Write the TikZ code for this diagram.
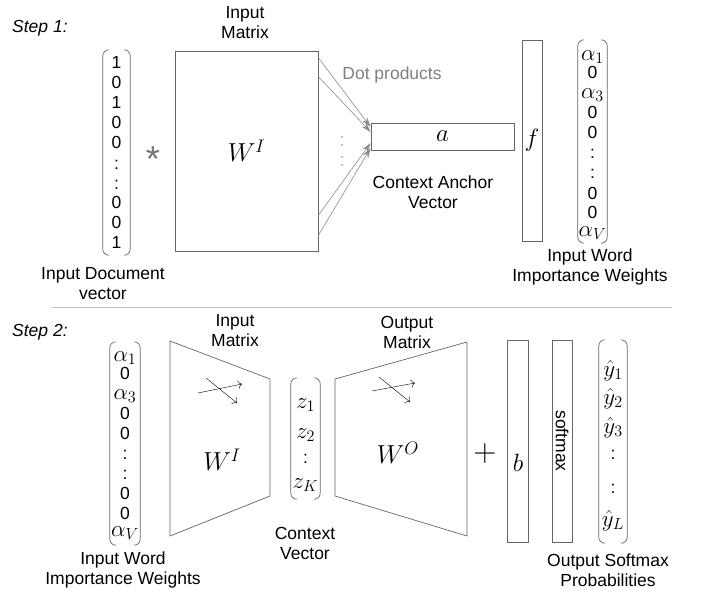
\RequirePackage{fix-cm}
\documentclass[tikz,border=0pt]{standalone}
\usepackage[no-math]{fontspec}
\setmainfont{Liberation Sans}
\usetikzlibrary{arrows.meta}

% parentheses round a vector holder node
\newcommand{\vecparens}[1]{%
  \draw[frame,rounded corners=6pt] ([xshift=6pt]#1.north west) -- (#1.north west) -- (#1.south west) -- ([xshift=6pt]#1.south west);
  \draw[frame,rounded corners=6pt] ([xshift=-6pt]#1.north east) -- (#1.north east) -- (#1.south east) -- ([xshift=-6pt]#1.south east);}
\newcommand{\ent}[1]{{\fontsize{23}{23}\selectfont$#1$}}

\begin{document}
\begin{tikzpicture}[x=1pt,y=-1pt]
      \tikzstyle{every node}=[inner sep=0pt,font=\fontsize{17.5}{20}\selectfont]
      \tikzstyle{lbl}=[align=center]
      \tikzstyle{stepname}=[anchor=west,font=\fontsize{17.5}{20}\selectfont\itshape]
      \tikzstyle{box}=[draw=black!60,line width=0.7pt]
      \tikzstyle{frame}=[draw=black!60,line width=0.7pt]
      \tikzstyle{holder}=[draw=none]
      \tikzstyle{entry}=[text height=12pt,text depth=0pt]
      \tikzstyle{big}=[font=\fontsize{26}{26}\selectfont]
      \tikzstyle{sym}=[font=\fontsize{25}{25}\selectfont]
      \tikzstyle{dotprod}=[draw=black!45,line width=0.6pt,-{Stealth[length=10pt,width=6pt]}]
      \tikzstyle{flow}=[draw=black,line width=0.4pt,-{To[length=4pt]}]

      \useasboundingbox (0,0) rectangle (702,590);

      % Step 1
      \node[stepname] (step1) at (12,28) {Step 1:};
      \node[lbl] (inmat1) at (245,23) {Input\\Matrix};

      \node[holder,minimum width=27pt,minimum height=205pt] (docvec) at (116.5,152.5) {};
      \vecparens{docvec}
      \foreach \t/\y [count=\i] in {1/62,0/82,1/102,0/122,0/142,:/163,:/183,0/202,0/222,1/242}
        \node[entry] (d\i) at (116.5,\y) {\t};
      \node[lbl] (doclbl) at (103,284) {Input Document\\vector};

      \node[anchor=base,text=black!55,font=\fontsize{36}{36}\selectfont] (times) at (153,171.5) {*};

      \node[box,big,minimum width=143pt,minimum height=200pt] (WI1) at (246.5,151) {$W^I$};
      \node[lbl,text=black!50] (dotlbl) at (392,75) {Dot products};
      \node[box,sym,minimum width=143pt,minimum height=27pt] (ctx) at (442.5,136.5) {$a$};
      \node[lbl] (ctxlbl) at (433,192) {Context Anchor\\Vector};

      \draw[dotprod] ([yshift=-7pt]WI1.north east) -- ([yshift=9.5pt]ctx.west);
      \draw[dotprod] ([yshift=-26pt]WI1.north east) -- ([yshift=4.5pt]ctx.west);
      \draw[dotprod] ([yshift=36pt]WI1.south east) -- ([yshift=-6.5pt]ctx.west);
      \draw[dotprod] ([yshift=16pt]WI1.south east) -- ([yshift=-11.5pt]ctx.west);
      \foreach \y in {137,145,157,165}
        \fill[black!45] (342,\y) circle (0.9pt);

      \node[box,sym,minimum width=20pt,minimum height=201pt] (fbox) at (532,140.5) {$f$};

      \node[holder,minimum width=29pt,minimum height=203pt] (wvec1) at (592.5,141.5) {};
      \vecparens{wvec1}
      \foreach \t/\y [count=\i] in {\ent{\alpha_1}/54,0/72,\ent{\alpha_3}/92,0/112,0/132,:/152,:/172,0/193,0/212,\ent{\alpha_V}/230}
        \node[entry] (w\i) at (592.5,\y) {\t};
      \node[lbl] (wlbl1) at (590,267) {Input Word\\Importance Weights};

      \draw[black!25,line width=0.8pt] (52,307) -- (672,307);

      % Step 2
      \node[stepname] (step2) at (12,332) {Step 2:};
      \node[lbl] (inmat2) at (235,331) {Input\\Matrix};

      \node[holder,minimum width=30pt,minimum height=203pt] (wvec2) at (125,443.5) {};
      \vecparens{wvec2}
      \foreach \t/\y [count=\i] in {\ent{\alpha_1}/355,0/373,\ent{\alpha_3}/393,0/413,0/433,:/453,:/473,0/493,0/513,\ent{\alpha_V}/530}
        \node[entry] (v\i) at (125,\y) {\t};
      \node[lbl] (wlbl2) at (123,570) {Input Word\\Importance Weights};

      \draw[frame] (170,341) -- (270,379) -- (270,496) -- (170,536) -- cycle;
      \node[big] (WI2) at (222,460) {$W^I$};
      \draw[flow] (198,393) -- (242,384);
      \draw[flow] (206,378) -- (237,403);

      \node[holder,minimum width=29pt,minimum height=121pt] (zvec) at (305.5,438.5) {};
      \vecparens{zvec}
      \foreach \t/\y [count=\i] in {\ent{z_1}/402,\ent{z_2}/432,:/457,\ent{z_K}/482}
        \node[entry] (z\i) at (305.5,\y) {\t};
      \node[lbl] (zlbl) at (305,543) {Context\\Vector};

      \node[lbl] (outmat) at (407,332) {Output\\Matrix};
      \draw[frame] (335,379) -- (467,342) -- (467,536) -- (335,496) -- cycle;
      \node[big] (WO) at (398,453) {$W^O$};
      \draw[flow] (372,391) -- (415,383);
      \draw[flow] (379,377) -- (410,402);

      \node[font=\fontsize{32}{32}\selectfont] (plus) at (485,453) {$+$};
      \node[box,minimum width=21pt,minimum height=202pt] (bbox) at (517.5,441) {};
      \node[sym] (blbl) at (518,463) {$b$};
      \node[box,rotate=-90,minimum width=202pt,minimum height=20pt] (smax) at (562,441) {softmax};

      \node[holder,minimum width=28pt,minimum height=203pt] (yvec) at (613,441.5) {};
      \vecparens{yvec}
      \foreach \t/\y [count=\i] in {\ent{\hat{y}_1}/370,\ent{\hat{y}_2}/398,\ent{\hat{y}_3}/427,:/453,:/487,\ent{\hat{y}_L}/520}
        \node[entry] (y\i) at (613,\y) {\t};
      \node[lbl] (ylbl) at (608,570) {Output Softmax\\Probabilities};
\end{tikzpicture}
\end{document}
